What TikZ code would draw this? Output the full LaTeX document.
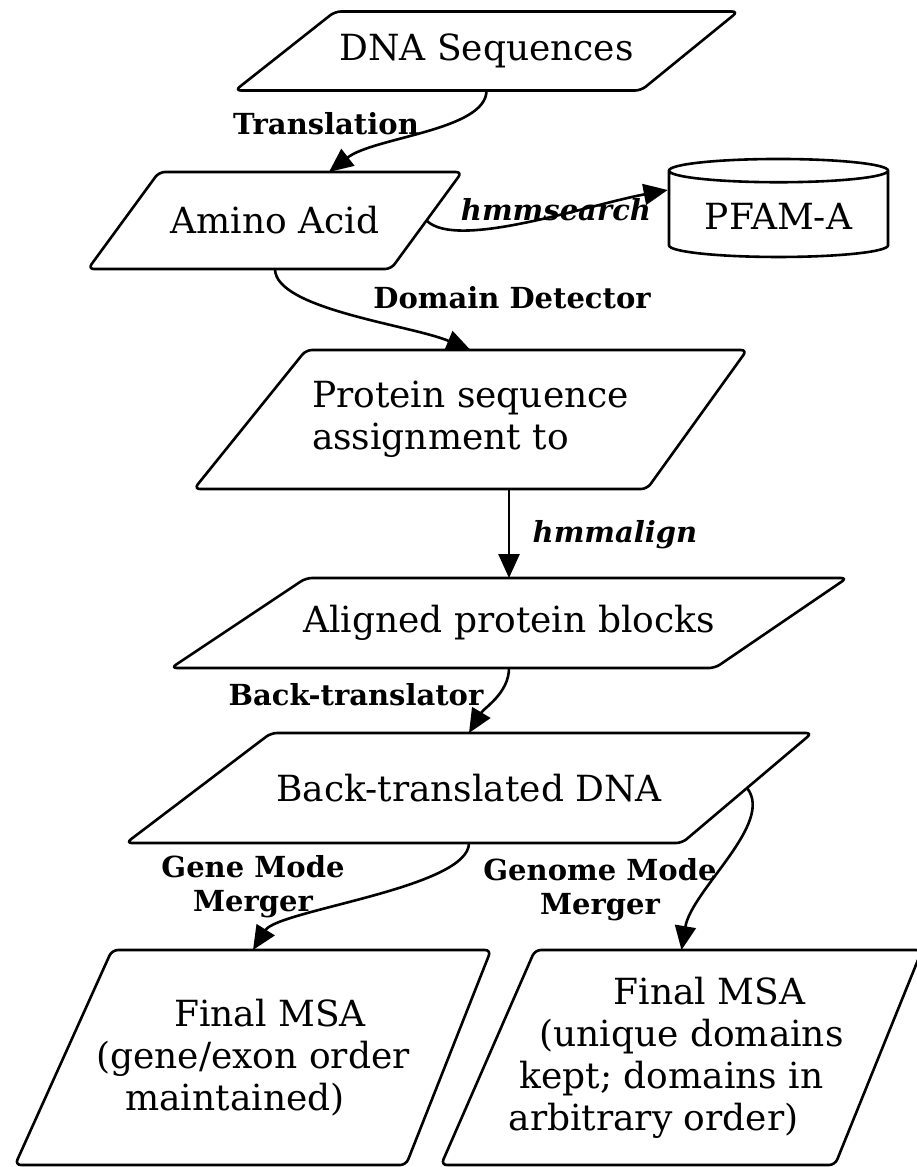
\documentclass[tikz,border=0pt]{standalone}
\usepackage{fontspec}
\setmainfont{DejaVu Serif}
\usetikzlibrary{shapes.geometric,arrows.meta,calc}

\begin{document}
\begin{tikzpicture}[x=0.5pt,y=-0.5pt]
  \tikzstyle{box}=[inner sep=0pt, outer sep=0pt, font=\fontsize{18}{21}\selectfont, align=center]
  \tikzstyle{border}=[draw, line width=1.3pt, rounded corners=3pt]
  \tikzstyle{store}=[cylinder, shape border rotate=90, draw, line width=1.3pt, aspect=0.15, inner sep=2pt, font=\fontsize{18}{21}\selectfont]
  \tikzstyle{flow}=[draw, line width=1.3pt, -{Triangle[length=12pt,width=10.5pt]}]
  \tikzstyle{lbl}=[font=\fontsize{14.5}{17}\selectfont\bfseries, align=center, inner sep=0pt]
  \tikzstyle{ilbl}=[lbl, font=\fontsize{14.5}{17}\selectfont\bfseries\itshape]

  \useasboundingbox (0,0) rectangle (916,1167);

  \node[box, minimum width=251.5pt, minimum height=39.5pt] (dna) at (486.5,51) {DNA Sequences};
  \node[box, minimum width=187pt, minimum height=48.5pt] (amino) at (275,220.5) {Amino Acid};
  \node[store, minimum width=109.5pt, minimum height=49pt] (pfam) at (778.5,216) {PFAM-A};
  \node[box, minimum width=276.5pt, minimum height=69.5pt, align=left] (protein) at (470.5,419.5) {Protein sequence\\assignment to};
  \node[box, minimum width=338pt, minimum height=45pt] (aligned) at (509,623) {Aligned protein blocks};
  \node[box, minimum width=343pt, minimum height=55pt] (back) at (469,788) {Back-translated DNA};
  \node[box, minimum width=238pt, minimum height=107.5pt] (gene) at (253,1057.5) {\hspace*{17pt}Final MSA\\(gene/exon order\\\hspace*{-18pt}maintained)};
  \node[box, minimum width=240.5pt, minimum height=107.5pt] (genome) at (681.5,1057.5) {\hspace*{28pt}Final MSA\\\hspace*{10pt}(unique domains\\\hspace*{-10pt}kept; domains in\\\hspace*{-28pt}arbitrary order)};

  \draw[border] ($(dna.north west)+(100,0)$) -- (dna.north east) -- ($(dna.south east)+(-97,0)$) -- (dna.south west) -- cycle;
  \draw[border] ($(amino.north west)+(71,0)$) -- (amino.north east) -- ($(amino.south east)+(-71,0)$) -- (amino.south west) -- cycle;
  \draw[border] ($(protein.north west)+(112,0)$) -- (protein.north east) -- ($(protein.south east)+(-100,0)$) -- (protein.south west) -- cycle;
  \draw[border] ($(aligned.north west)+(135,0)$) -- (aligned.north east) -- ($(aligned.south east)+(-132,0)$) -- (aligned.south west) -- cycle;
  \draw[border] ($(back.north west)+(145,0)$) -- (back.north east) -- ($(back.south east)+(-130,0)$) -- (back.south west) -- cycle;
  \draw[border] ($(gene.north west)+(97,0)$) -- (gene.north east) -- ($(gene.south east)+(-85,0)$) -- (gene.south west) -- cycle;
  \draw[border] ($(genome.north west)+(94,0)$) -- (genome.north east) -- ($(genome.south east)+(-87,0)$) -- (genome.south west) -- cycle;

  \draw[flow] (dna.south) .. controls +(0,40) and +(45,-35) .. ($(amino.north)+(54,0)$);
  \draw[flow] ($(amino.east)+(-35.5,0)$) .. controls +(30,30) and +(-80,15) .. ($(pfam.west)+(0,-26)$);
  \draw[flow] (amino.south) .. controls +(0,40) and +(-60,-25) .. (protein.north);
  \draw[flow] (protein.south -| aligned.north) -- (aligned.north);
  \draw[flow] (aligned.south) .. controls +(0,25) and +(15,-25) .. (back.north);
  \draw[flow] (back.south) .. controls +(0,45) and +(25,-40) .. (gene.north);
  \draw[flow] ($(back.east)+(-65,0)$) .. controls +(28,35) and +(10,-60) .. (genome.north);

  \node[lbl] (ltrans) at (326,124) {Translation};
  \node[ilbl] (lsearch) at (556,210) {hmmsearch};
  \node[lbl] (ldomain) at (512,298) {Domain Detector};
  \node[ilbl] (lalign) at (615,535) {hmmalign};
  \node[lbl] (lback) at (356,695) {Back-translator};
  \node[lbl] (lgene) at (253,887) {Gene Mode\\Merger};
  \node[lbl] (lgenome) at (600,890) {Genome Mode\\Merger};
\end{tikzpicture}
\end{document}
